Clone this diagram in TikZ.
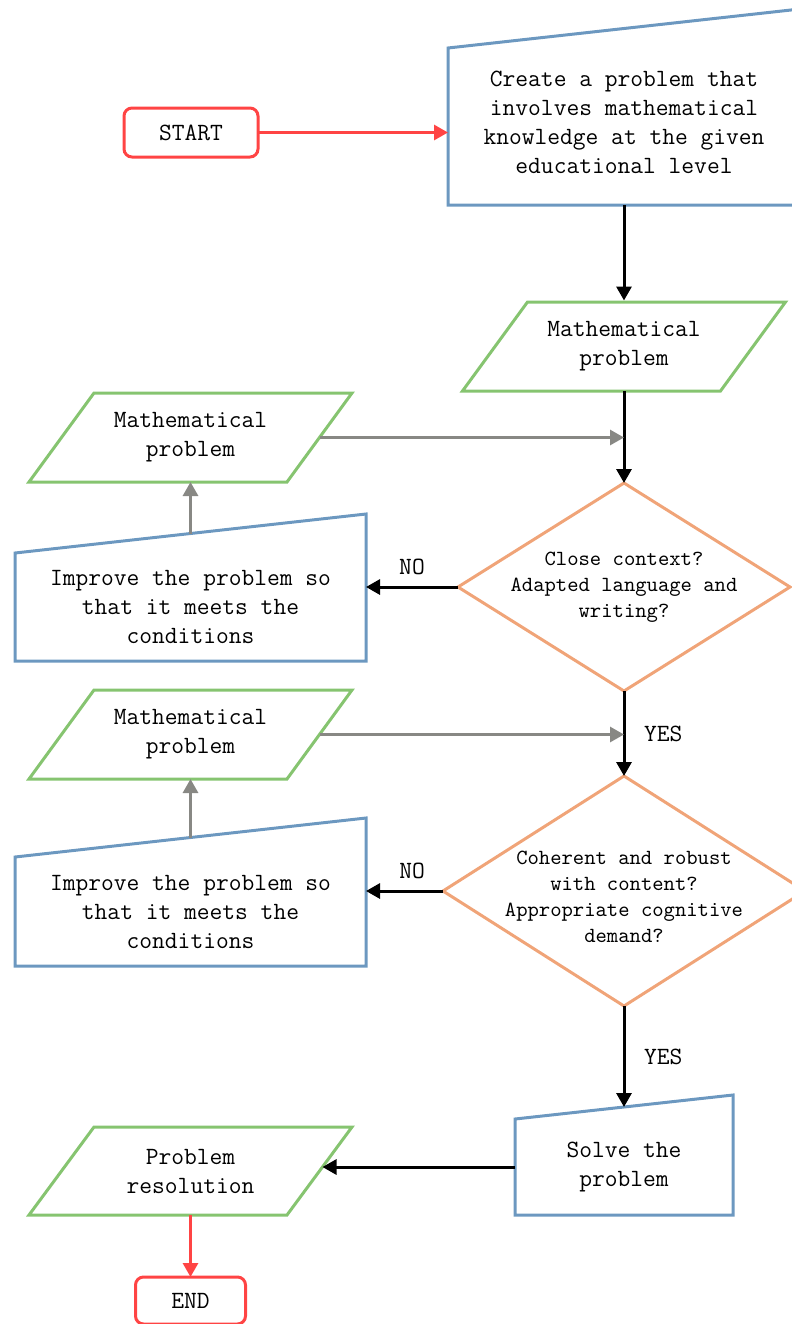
\documentclass[tikz,border=0pt]{standalone}
\usepackage{fontspec}
\usetikzlibrary{shapes.geometric,arrows.meta}

\definecolor{termred}{RGB}{255,68,68}
\definecolor{procblue}{RGB}{108,152,192}
\definecolor{iogreen}{RGB}{134,196,112}
\definecolor{decorange}{RGB}{240,164,120}
\definecolor{loopgray}{RGB}{136,136,132}

\tikzset{
  base/.style={line width=1.5pt, outer sep=0pt, align=center,
    font=\ttfamily\fontsize{12.4}{14.5}\selectfont},
  term/.style={base, draw=termred, rounded corners=4pt, minimum height=24.5pt},
  process/.style={base, draw=none},
  procframe/.style={line width=1.5pt, draw=procblue, line join=miter},
  io/.style={base, draw=none, minimum width=129pt, minimum height=44.5pt},
  ioframe/.style={line width=1.5pt, draw=iogreen, line join=miter},
  decision/.style={base, diamond, draw=decorange, inner sep=0pt},
  dectext/.style={font=\ttfamily\fontsize{10.8}{13}\selectfont, align=center},
  flow/.style={line width=1.5pt, -{Triangle[length=7pt,width=7.5pt]}},
  flowred/.style={flow, draw=termred, fill=termred},
  flowgray/.style={flow, draw=loopgray, fill=loopgray},
  answer/.style={font=\ttfamily\fontsize{12.4}{14.5}\selectfont}
}

% manual input outline round a plain node: #2 = rise of the right corner
\newcommand{\manualframe}[2]{%
  \draw[procframe] (#1.south west) -- (#1.south east)
    -- ([yshift=#2]#1.north east) -- (#1.north west) -- cycle;}
% data outline (parallelogram) round a plain node
\newcommand{\dataframe}[1]{%
  \draw[ioframe] ([xshift=16.25pt]#1.north west) -- ([xshift=16.25pt]#1.north east)
    -- ([xshift=-16.25pt]#1.south east) -- ([xshift=-16.25pt]#1.south west) -- cycle;}

\begin{document}
\begin{tikzpicture}[x=0.5pt,y=-0.5pt]
  \useasboundingbox (0,0) rectangle (792,1324);

  % main column
  \node[term, minimum width=67pt] (start) at (191,132.5) {START};
  \node[process, minimum width=176pt, minimum height=78.5pt, text depth=4pt] (create) at (624,126.5)
    {Create a problem that\\involves mathematical\\knowledge at the given\\educational level};
  \manualframe{create}{19.5pt}
  \node[io] (prob1) at (624,346.5) {Mathematical\\problem};
  \dataframe{prob1}
  \node[decision, minimum width=166pt, minimum height=104pt,
    label={[dectext]center:Close context?\\Adapted language and\\writing?}] (dec1) at (624,587) {};
  \node[decision, minimum width=181pt, minimum height=115pt,
    label={[dectext, yshift=-3pt]center:Coherent and robust\\with content?\\Appropriate cognitive\\demand?}] (dec2) at (624,891) {};
  \node[process, minimum width=109pt, minimum height=48pt] (solve) at (624,1167)
    {Solve the\\problem};
  \manualframe{solve}{12pt}

  % left column
  \node[io] (alt1) at (190.5,437.5) {Mathematical\\problem};
  \dataframe{alt1}
  \node[process, minimum width=175.5pt, minimum height=54pt] (imp1) at (190.5,607)
    {Improve the problem so\\that it meets the\\conditions};
  \manualframe{imp1}{19.5pt}
  \node[io] (alt2) at (190.5,734.5) {Mathematical\\problem};
  \dataframe{alt2}
  \node[process, minimum width=175.5pt, minimum height=54.5pt] (imp2) at (190.5,911.5)
    {Improve the problem so\\that it meets the\\conditions};
  \manualframe{imp2}{19.5pt}
  \node[io, minimum height=44pt] (res) at (190.5,1171) {Problem\\resolution};
  \dataframe{res}
  \node[term, minimum width=55pt, minimum height=23.5pt] (end) at (190.5,1300.5) {END};

  % connectors
  \draw[flowred] (start.east) -- (start.east -| create.west);
  \draw[flow] (create.south) -- ([yshift=0.75pt]prob1.north);
  \draw[flow] (prob1.south) -- (dec1.north);
  \draw[flow] (dec1.west) -- (dec1.west -| imp1.east)
    node[answer, midway, above, yshift=2pt] {NO};
  \draw[flowgray] ([yshift=9.75pt]imp1.north) -- (alt1.south);
  \draw[flowgray] (alt1.east) -- (alt1.east -| dec1.north);
  \draw[flow] (dec1.south) -- (dec2.north)
    node[answer, midway, right, xshift=6pt] {YES};
  \draw[flow] (dec2.west) -- (dec2.west -| imp2.east)
    node[answer, pos=0.4, above, yshift=2pt] {NO};
  \draw[flowgray] ([yshift=9.75pt]imp2.north) -- (alt2.south);
  \draw[flowgray] (alt2.east) -- (alt2.east -| dec1.south);
  \draw[flow] (dec2.south) -- ([yshift=6pt]solve.north)
    node[answer, midway, right, xshift=6pt] {YES};
  \draw[flow] (solve.west) -- ([xshift=1.5pt]solve.west -| res.east);
  \draw[flowred] (res.south) -- (end.north);
\end{tikzpicture}
\end{document}
